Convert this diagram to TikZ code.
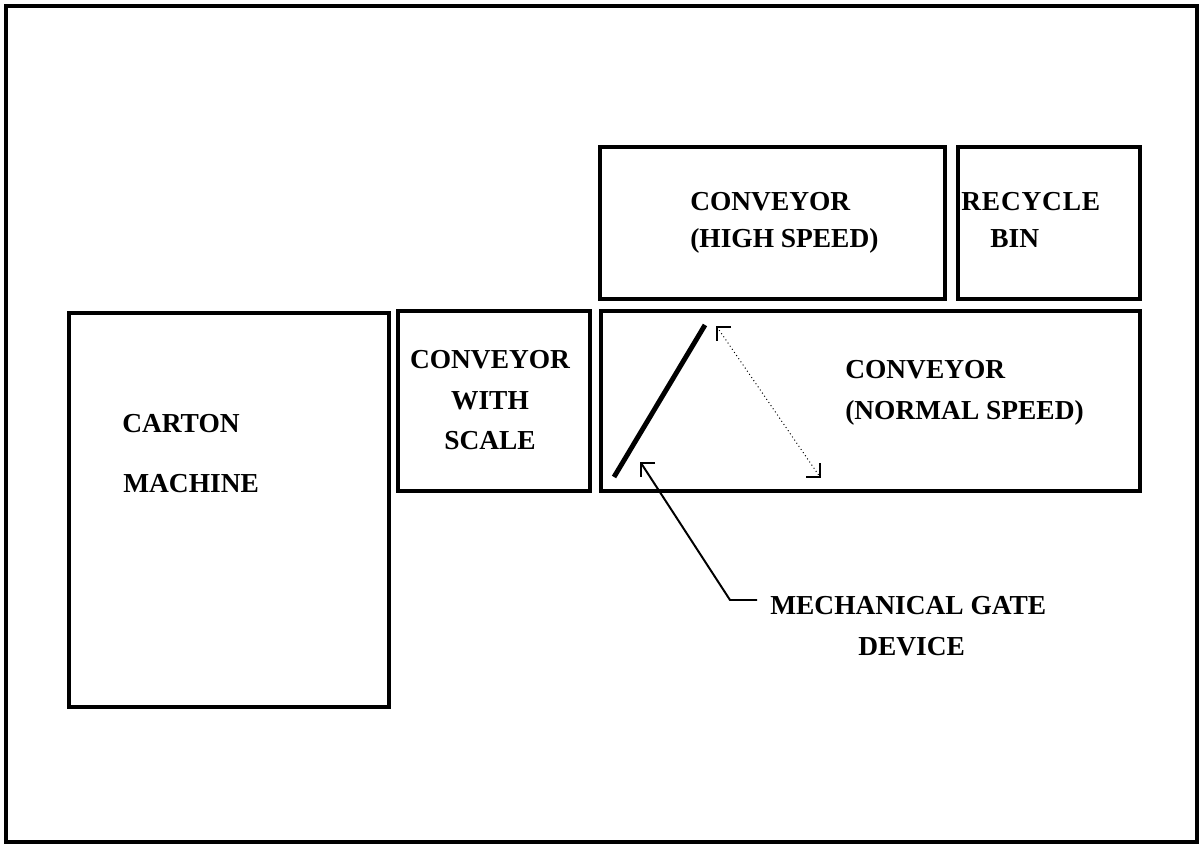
\documentclass[tikz,border=0pt]{standalone}
\usepackage{fontspec}
\setmainfont{Liberation Serif}

\begin{document}
\begin{tikzpicture}[x=0.025cm,y=-0.025cm,
  unit/.style={line width=1mm},
  corner/.style={line width=1.5pt},
  lbl/.style={font=\fontsize{19.5}{23}\selectfont\bfseries,inner sep=0pt}]
  \useasboundingbox (0,0) rectangle (1200,845);
  \draw [line width=1mm] (6,6) rectangle (1197,842);
  % corners of the units
  \coordinate (cm1) at (69,313);  \coordinate (cm2) at (389,707);
  \coordinate (sc1) at (398,311); \coordinate (sc2) at (590,491);
  \coordinate (ns1) at (601,311); \coordinate (ns2) at (1140,491);
  \coordinate (hs1) at (600,147); \coordinate (hs2) at (945,299);
  \coordinate (rb1) at (958,147); \coordinate (rb2) at (1140,299);
  \draw [unit] (cm1) rectangle (cm2);
  \draw [unit] (sc1) rectangle (sc2);
  \draw [unit] (ns1) rectangle (ns2);
  \draw [unit] (hs1) rectangle (hs2);
  \draw [unit] (rb1) rectangle (rb2);
  % labels
  \node [lbl,anchor=base west] (carton) at (122,432) {CARTON};
  \node [lbl,anchor=base west] (machine) at (123,492) {MACHINE};
  \node [lbl,anchor=base] (sconv) at (490,369) {CONVEYOR};
  \node [lbl,anchor=base] (swith) at (490,409) {WITH};
  \node [lbl,anchor=base] (sscale) at (490,449) {SCALE};
  \node [lbl,anchor=base west] (hconv) at (690,211) {CONVEYOR};
  \node [lbl,anchor=base west] (hspeed) at (690,248) {(HIGH SPEED)};
  \node [lbl,anchor=base west] (recycle) at (961,211)
    {\addfontfeature{LetterSpace=3}RECYCLE};
  \node [lbl,anchor=base west] (bin) at (990,248) {BIN};
  \node [lbl,anchor=base west] (nconv) at (845,379) {CONVEYOR};
  \node [lbl,anchor=base west] (nspeed) at (845,419) {(NORMAL SPEED)};
  \node [lbl,anchor=base west] (mech) at (770,614) {MECHANICAL GATE};
  \node [lbl,anchor=base west] (device) at (858,655) {DEVICE};
  % the gate and its swing
  \coordinate (g1) at (614,477);
  \coordinate (g2) at (705,325);
  \draw [line width=3.5pt] (g1) -- (g2);
  \coordinate (sw1) at (717,327);
  \coordinate (sw2) at (820,477);
  \draw [dotted,line width=0.7pt] (sw1) -- (sw2);
  \draw [corner] (sw1) ++(14,0) -- (sw1) -- ++(0,14);
  \draw [corner] (sw2) ++(-14,0) -- (sw2) -- ++(0,-14);
  % leader to the gate
  \coordinate (lead) at (757,600);
  \coordinate (bend) at (730,600);
  \coordinate (tip) at (641,463);
  \draw [line width=1.4pt] (lead) -- (bend) -- (tip);
  \draw [corner] (tip) ++(14,0) -- (tip) -- ++(0,14);
\end{tikzpicture}
\end{document}
